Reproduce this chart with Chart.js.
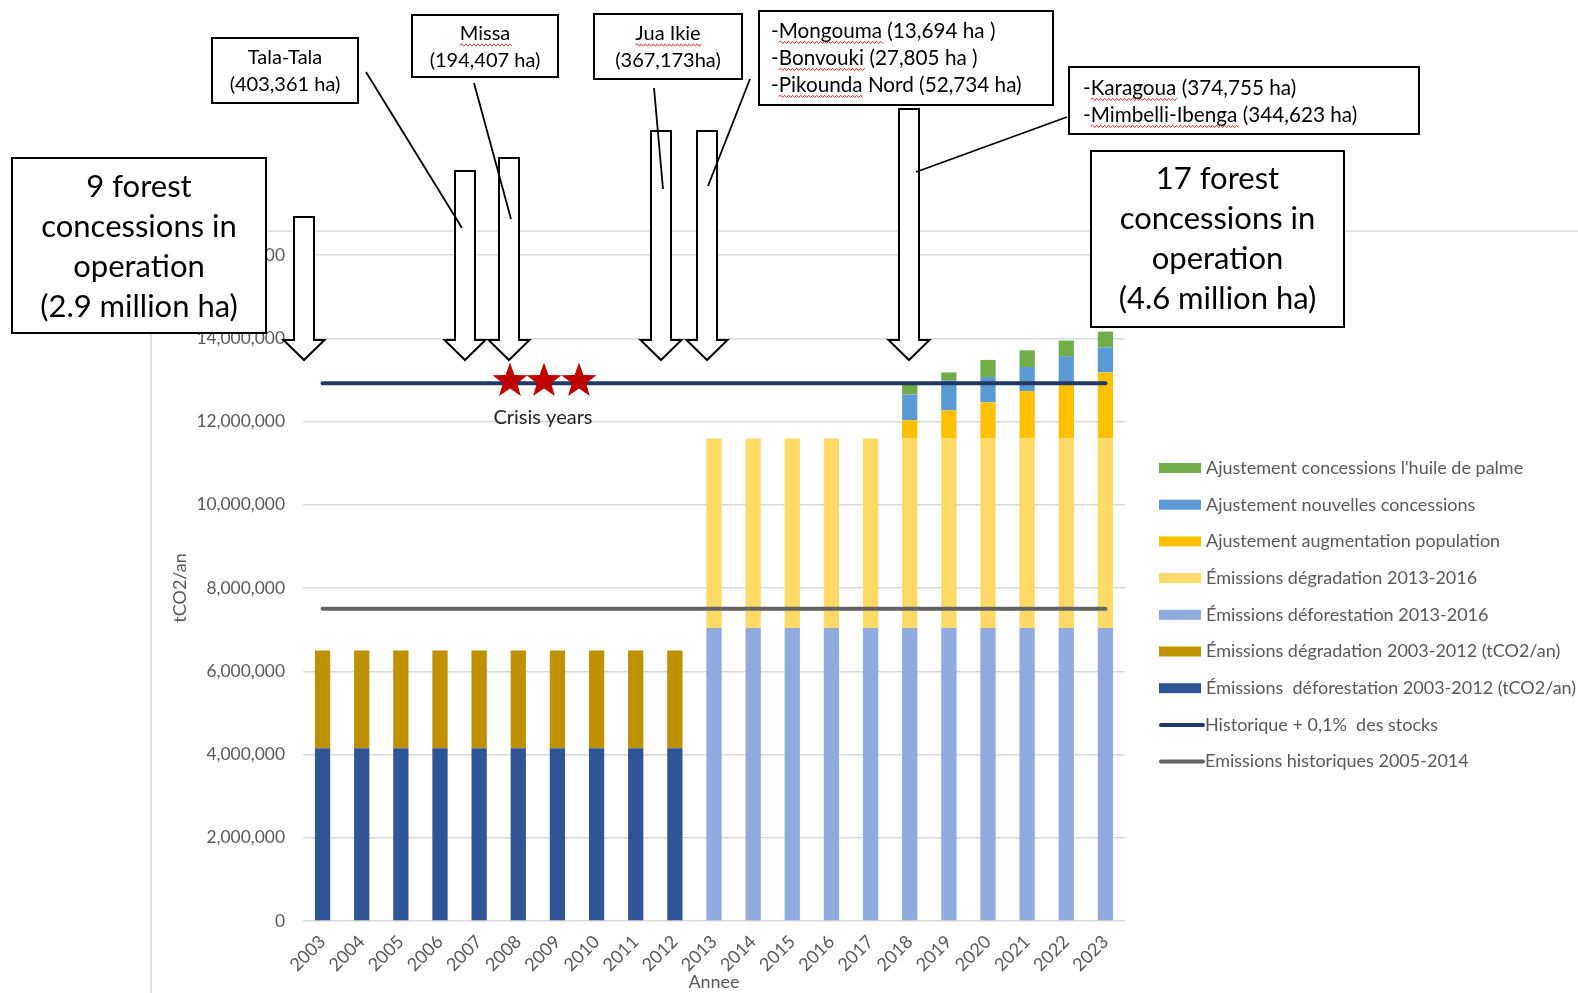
<!DOCTYPE html>
<html>
<head>
<meta charset="utf-8">
<script src="https://cdn.jsdelivr.net/npm/chart.js@4.4.1/dist/chart.umd.min.js"></script>
<style>
html, body { margin: 0; padding: 0; background: #fff; }
canvas { display: block; }
</style>
</head>
<body>
<canvas id="canvas-1" width="1578" height="993"></canvas>
<script>
// data
var years = ['2003','2004','2005','2006','2007','2008','2009','2010','2011','2012','2013','2014','2015','2016','2017','2018','2019','2020','2021','2022','2023'];

var deforestation0312 = [4150000,4150000,4150000,4150000,4150000,4150000,4150000,4150000,4150000,4150000,null,null,null,null,null,null,null,null,null,null,null];
var degradation0312 = [2350000,2350000,2350000,2350000,2350000,2350000,2350000,2350000,2350000,2350000,null,null,null,null,null,null,null,null,null,null,null];
var deforestation1316 = [null,null,null,null,null,null,null,null,null,null,7040000,7040000,7040000,7040000,7040000,7040000,7040000,7040000,7040000,7040000,7040000];
var degradation1316 = [null,null,null,null,null,null,null,null,null,null,4550000,4550000,4550000,4550000,4550000,4550000,4550000,4550000,4550000,4550000,4550000];
var adjPopulation = [null,null,null,null,null,null,null,null,null,null,null,null,null,null,null,440000,680000,870000,1140000,1360000,1590000];
var adjNewConcessions = [null,null,null,null,null,null,null,null,null,null,null,null,null,null,null,620000,720000,610000,580000,620000,600000];
var adjPalmOil = [null,null,null,null,null,null,null,null,null,null,null,null,null,null,null,230000,190000,410000,400000,375000,380000];
var historicPlusStock = [12920000,12920000,12920000,12920000,12920000,12920000,12920000,12920000,12920000,12920000,12920000,12920000,12920000,12920000,12920000,12920000,12920000,12920000,12920000,12920000,12920000];
var historicEmissions = [7500000,7500000,7500000,7500000,7500000,7500000,7500000,7500000,7500000,7500000,7500000,7500000,7500000,7500000,7500000,7500000,7500000,7500000,7500000,7500000,7500000];

var yMax = 16000000;
var yStep = 2000000;

var FONT = "Lato, 'Liberation Sans', sans-serif";
var GREY_TXT = '#595959';
var GRID = '#D9D9D9';

var bar = function (label, data, color) {
    return { type: 'bar', label: label, data: data, backgroundColor: color, borderWidth: 0,
             barPercentage: 0.39, categoryPercentage: 1, stack: 'bars' };
};
var line = function (label, data, color, stack) {
    return { type: 'line', label: label, data: data, borderColor: color, backgroundColor: color,
             borderWidth: 4, pointRadius: 0, borderCapStyle: 'round', stack: stack, order: -1 };
};

var datasetss = [
    bar('Émissions  déforestation 2003-2012 (tCO2/an)', deforestation0312, '#2F5597'),
    bar('Émissions dégradation 2003-2012 (tCO2/an)', degradation0312, '#BF9000'),
    bar('Émissions déforestation 2013-2016', deforestation1316, '#8FAADC'),
    bar('Émissions dégradation 2013-2016', degradation1316, '#FFD966'),
    bar('Ajustement augmentation population', adjPopulation, '#FFC000'),
    bar('Ajustement nouvelles concessions', adjNewConcessions, '#5B9BD5'),
    bar("Ajustement concessions l'huile de palme", adjPalmOil, '#70AD47'),
    line('Historique + 0,1%  des stocks', historicPlusStock, '#203864', 'l1'),
    line('Emissions historiques 2005-2014', historicEmissions, '#636363', 'l2')
];

// chart frame, legend and the drawn-on notes
var framePlugin = {
    id: 'frame',
    beforeDraw: function (chart) {
        var c = chart.ctx;
        c.save();
        c.fillStyle = '#fff';
        c.fillRect(0, 0, chart.width, chart.height);
        c.strokeStyle = GRID;
        c.lineWidth = 1.5;
        c.beginPath();
        c.moveTo(151, chart.height);
        c.lineTo(151, 231);
        c.lineTo(chart.width, 231);
        c.stroke();
        c.restore();
    }
};

var legendPlugin = {
    id: 'sideLegend',
    afterDraw: function (chart) {
        var c = chart.ctx;
        var items = [];
        for (var i = 6; i >= 0; i--) items.push(chart.data.datasets[i]);
        items.push(chart.data.datasets[7], chart.data.datasets[8]);
        c.save();
        c.font = '18px ' + FONT;
        c.textBaseline = 'middle';
        for (var k = 0; k < items.length; k++) {
            var y = 468 + k * 36.7;
            var ds = items[k];
            if (ds.type === 'line') {
                c.strokeStyle = ds.borderColor;
                c.lineWidth = 4;
                c.lineCap = 'round';
                c.beginPath();
                c.moveTo(1161, y);
                c.lineTo(1203, y);
                c.stroke();
                c.fillStyle = GREY_TXT;
                c.fillText(ds.label, 1205, y);
            } else {
                c.fillStyle = ds.backgroundColor;
                c.fillRect(1159, y - 5, 42, 10);
                c.fillStyle = GREY_TXT;
                c.fillText(ds.label, 1206, y);
            }
        }
        c.restore();
    }
};

var notes = [
    { x: 12, y: 158, w: 254, h: 175, size: 31, align: 'center', ys: [187, 227, 267, 307],
      lines: ['9 forest', 'concessions in', 'operation', '(2.9 million ha)'] },
    { x: 212, y: 38, w: 146, h: 65, size: 20, align: 'center', ys: [58, 85],
      lines: ['Tala-Tala', '(403,361 ha)'] },
    { x: 412, y: 15, w: 146, h: 62, size: 20, align: 'center', ys: [34, 61],
      lines: ['Missa', '(194,407 ha)'], wavy: [['', 'Missa']] },
    { x: 594, y: 14, w: 148, h: 65, size: 20, align: 'center', ys: [34, 61],
      lines: ['Jua Ikie', '(367,173ha)'], wavy: [['', 'Jua Ikie']] },
    { x: 759, y: 11, w: 294, h: 94, size: 20.7, align: 'left', tx: 771, ys: [31, 58, 85],
      lines: ['-Mongouma (13,694 ha )', '-Bonvouki (27,805 ha )', '-Pikounda Nord (52,734 ha)'],
      wavy: [['-', 'Mongouma'], ['-', 'Bonvouki'], ['-', 'Pikounda']] },
    { x: 1069, y: 67, w: 350, h: 67, size: 20.7, align: 'left', tx: 1083, ys: [88, 115],
      lines: ['-Karagoua (374,755 ha)', '-Mimbelli-Ibenga (344,623 ha)'],
      wavy: [['-', 'Karagoua'], ['-', 'Mimbelli-Ibenga']] },
    { x: 1091, y: 151, w: 253, h: 176, size: 31, align: 'center', ys: [179, 219, 259, 299],
      lines: ['17 forest', 'concessions in', 'operation', '(4.6 million ha)'] }
];
var leaders = [[366, 72, 462, 228], [474, 83, 511, 219], [654, 88, 663, 189], [750, 79, 708, 186], [1067, 117, 916, 172]];
var arrows = [[304, 217], [465, 171], [509, 158], [661, 131], [707, 131], [909, 109]];
var stars = [510, 544, 579];

function drawStar(c, cx, cy, R, r) {
    c.beginPath();
    for (var i = 0; i < 10; i++) {
        var rad = i % 2 === 0 ? R : r;
        var a = -Math.PI / 2 + i * Math.PI / 5;
        c.lineTo(cx + rad * Math.cos(a), cy + rad * Math.sin(a));
    }
    c.closePath();
    c.fill();
}

var notesPlugin = {
    id: 'notes',
    afterDraw: function (chart) {
        var c = chart.ctx;
        c.save();
        // arrows
        c.lineWidth = 2;
        c.strokeStyle = '#000';
        c.fillStyle = '#fff';
        c.lineJoin = 'miter';
        arrows.forEach(function (a) {
            var x = a[0], top = a[1], tip = 360, base = 340;
            c.beginPath();
            c.moveTo(x - 10, top);
            c.lineTo(x + 10, top);
            c.lineTo(x + 10, base);
            c.lineTo(x + 20.5, base);
            c.lineTo(x, tip);
            c.lineTo(x - 20.5, base);
            c.lineTo(x - 10, base);
            c.closePath();
            c.fill();
            c.stroke();
        });
        // leader lines
        c.lineWidth = 1.8;
        leaders.forEach(function (l) {
            c.beginPath();
            c.moveTo(l[0], l[1]);
            c.lineTo(l[2], l[3]);
            c.stroke();
        });
        // boxes
        notes.forEach(function (n) {
            c.fillStyle = '#fff';
            c.fillRect(n.x, n.y, n.w, n.h);
            c.lineWidth = 2;
            c.strokeStyle = '#000';
            c.strokeRect(n.x, n.y, n.w, n.h);
            c.font = n.size + 'px ' + FONT;
            c.textBaseline = 'middle';
            c.fillStyle = '#000';
            c.textAlign = n.align;
            var tx = n.align === 'center' ? n.x + n.w / 2 : n.tx;
            n.lines.forEach(function (t, i) {
                c.fillText(t, tx, n.ys[i]);
                if (n.wavy && n.wavy[i]) {
                    var full = c.measureText(t).width;
                    var start = n.align === 'center' ? tx - full / 2 : tx;
                    var x0 = start + c.measureText(n.wavy[i][0]).width;
                    var x1 = x0 + c.measureText(n.wavy[i][1]).width;
                    var wy = n.ys[i] + n.size * 0.55;
                    c.strokeStyle = '#E03030';
                    c.lineWidth = 1;
                    c.beginPath();
                    c.moveTo(x0, wy);
                    for (var xx = x0, up = true; xx < x1; xx += 2, up = !up) {
                        c.lineTo(xx + 2, wy + (up ? -1.2 : 1.2));
                    }
                    c.stroke();
                    c.strokeStyle = '#000';
                }
            });
        });
        // crisis stars
        c.fillStyle = '#C00000';
        stars.forEach(function (sx) { drawStar(c, sx, 381, 18.5, 7.5); });
        c.font = '20px ' + FONT;
        c.fillStyle = '#262626';
        c.textAlign = 'center';
        c.textBaseline = 'middle';
        c.fillText('Crisis years', 543, 418);
        c.restore();
    }
};

var ctx = document.getElementById('canvas-1');
var chart = new Chart(ctx, {
    type: 'bar',
    data: { labels: years, datasets: datasetss },
    plugins: [framePlugin, legendPlugin, notesPlugin],
    options: {
        responsive: false,
        animation: false,
        layout: { padding: { left: 165, top: 255, right: 453, bottom: 0 } },
        plugins: { legend: { display: false }, tooltip: { enabled: false } },
        scales: {
            x: {
                stacked: true,
                grid: { display: false },
                border: { display: false },
                ticks: { color: GREY_TXT, font: { family: FONT, size: 18 }, minRotation: 45, maxRotation: 45, autoSkip: false, padding: 2 },
                title: { display: true, text: 'Annee', color: GREY_TXT, font: { family: FONT, size: 18 }, padding: { top: 0, bottom: 0 } },
                afterFit: function (s) { s.height = 72; }
            },
            y: {
                stacked: true,
                min: 0,
                max: yMax,
                border: { display: false },
                grid: { color: GRID, lineWidth: 1.5, drawTicks: false },
                ticks: {
                    stepSize: yStep,
                    color: GREY_TXT,
                    font: { family: FONT, size: 17.4 },
                    padding: 18,
                    callback: function (v) { return v.toLocaleString('en-US'); }
                },
                title: { display: true, text: 'tCO2/an', color: GREY_TXT, font: { family: FONT, size: 18 }, padding: { top: 4, bottom: 4 } },
                afterFit: function (s) { s.width = 138; }
            }
        }
    }
});
</script>
</body>
</html>
